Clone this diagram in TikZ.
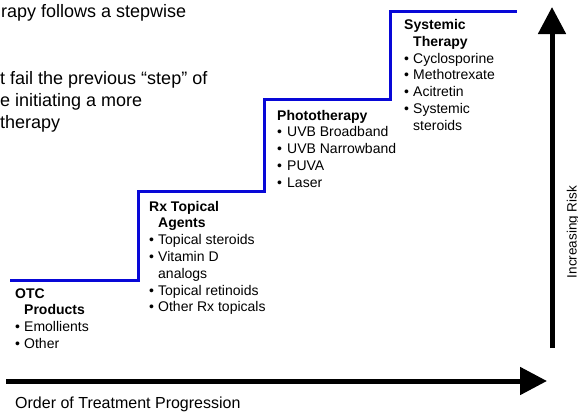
\documentclass[tikz,border=0pt]{standalone}
\usepackage{fontspec}
\setmainfont{Liberation Sans}
\usetikzlibrary{arrows.meta}
\definecolor{stairblue}{RGB}{8,8,215}
\newcommand{\bul}{\makebox[9pt][l]{•}}
\newcommand{\ind}{\hspace*{9pt}}
\newcommand{\lines}[1]{\begin{tabular}[t]{@{}l@{}}#1\end{tabular}}
\begin{document}
\begin{tikzpicture}[x=1pt,y=-1pt,
  block/.style={anchor=base west, inner sep=0pt, font=\fontsize{14}{16.8}\selectfont},
  intro/.style={anchor=base west, inner sep=0pt, font=\fontsize{18}{22}\selectfont},
  stair/.style={draw=stairblue, line width=3pt},
  bigarrow/.style={line width=5pt, -{Triangle[length=27pt,width=27pt]}},
  axislabel/.style={inner sep=0pt, font=\fontsize{13.5}{16}\selectfont}]
\useasboundingbox (0,0) rectangle (578,413);

% clipped intro text
\node[intro] (introA) at (1,17.5) {rapy follows a stepwise};
\node[intro] (introB) at (0,84) {\lines{t fail the previous “step” of\\e initiating a more\\therapy}};

% staircase
\coordinate (s0) at (10,280);
\coordinate (s1) at (138,280);
\coordinate (s2) at (138,191);
\coordinate (s3) at (264,191);
\coordinate (s4) at (264,99);
\coordinate (s5) at (390,99);
\coordinate (s6) at (390,11);
\coordinate (s7) at (517,11);
\draw[stair] (s0) -- (s1) -- (s2) -- (s3) -- (s4) -- (s5) -- (s6) -- (s7);

% step labels
\node[block] (otc) at (15,298) {\lines{\textbf{OTC}\\\ind\textbf{Products}\\\bul Emollients\\\bul Other}};
\node[block] (rx) at (149,211) {\lines{\textbf{Rx Topical}\\\ind\textbf{Agents}\\\bul Topical steroids\\\bul Vitamin D\\\ind analogs\\\bul Topical retinoids\\\bul Other Rx topicals}};
\node[block] (photo) at (277,120) {\lines{\textbf{Phototherapy}\\\makebox[10pt][l]{•}UVB Broadband\\\makebox[10pt][l]{•}UVB Narrowband\\\makebox[10pt][l]{•}PUVA\\\makebox[10pt][l]{•}Laser}};
\node[block] (sys) at (404,29.5) {\lines{\textbf{Systemic}\\\ind\textbf{Therapy}\\\bul Cyclosporine\\\bul Methotrexate\\\bul Acitretin\\\bul Systemic\\\ind steroids}};

% axes
\coordinate (vstart) at (552,348);
\coordinate (vend) at (552,7);
\draw[bigarrow] (vstart) -- (vend);
\coordinate (hstart) at (6,381);
\coordinate (hend) at (547,381);
\draw[bigarrow] (hstart) -- (hend);

\node[axislabel, anchor=base, rotate=90] (risk) at (576.5,232) {Increasing Risk};
\node[anchor=base west, inner sep=0pt, font=\fontsize{16}{19}\selectfont] (order) at (15,408.5) {Order of Treatment Progression};
\end{tikzpicture}
\end{document}
